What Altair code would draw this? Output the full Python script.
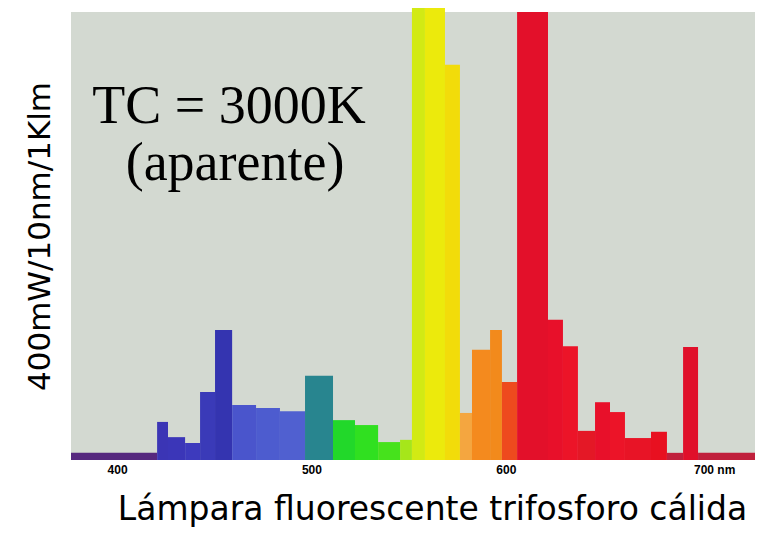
import altair as alt
import pandas as pd

# Spectral bins (nm) and relative power
edges = [376.3, 420.6, 426.2, 435.0, 442.7, 450.4, 459.2, 471.5, 483.8, 496.7,
         511.1, 522.4, 534.3, 545.6, 551.7, 558.4, 568.7, 576.4, 582.6, 591.9,
         598.0, 605.8, 621.7, 629.4, 637.1, 645.9, 653.6, 661.3, 674.7, 682.9,
         691.2, 698.9, 728.2]
values = [1.6, 8.5, 5.1, 3.8, 15.2, 29.0, 12.3, 11.6, 10.9, 18.8,
          8.9, 7.8, 4.0, 4.5, 102.7, 102.7, 88.2, 10.5, 24.6, 29.0,
          17.4, 100.0, 31.3, 25.4, 6.5, 12.9, 10.7, 4.9, 6.3, 1.6,
          25.2, 1.6]
colors = ["#56287e", "#3b35b5", "#3b36b8", "#3d3abd", "#3a3ab8", "#3434b0",
          "#4a55cc", "#4d5ccf", "#5060d0", "#28858f", "#22d82a", "#30e020",
          "#46e21c", "#a6e61a", "#d2ea14", "#ecea0c", "#f2dc0a", "#f4a640",
          "#f48a1e", "#f28a1c", "#ee4a1e", "#e3102a", "#e8102a", "#ec1428",
          "#e41826", "#e8102a", "#ec1428", "#e81426", "#e81020", "#c0203c",
          "#e0102a", "#c0203c"]

ann_x = [457.6, 460.7]
ann_y = [75.2, 62.5]
ann_text = ["TC = 3000K", "(aparente)"]

tick_values = [400, 500, 600, 700]

bars = pd.DataFrame({
    "start": edges[:-1],
    "end": edges[1:],
    "value": values,
    "color": colors,
})
ann = pd.DataFrame({"x": ann_x, "y": ann_y, "text": ann_text})

xscale = alt.Scale(domain=[edges[0], edges[-1]], nice=False, zero=False)
yscale = alt.Scale(domain=[0, 100], nice=False)

xaxis = alt.Axis(
    values=tick_values,
    labelExpr="datum.value == 700 ? '700 nm' : datum.label",
    labelFontWeight="bold", labelFontSize=12, labelColor="black",
    labelFont="Liberation Sans",
    labelOffset={"condition": {"test": "datum.value == 700", "value": 14}, "value": 0},
    labelPadding=4,
    domain=False, ticks=False, grid=False,
    title="Lámpara fluorescente trifosforo cálida",
    titleFont="DejaVu Sans", titleFontSize=33, titleFontWeight="normal",
    titleColor="black", titleX=361, titleY=59, titleAlign="center",
    titleBaseline="alphabetic",
)
yaxis = alt.Axis(
    labels=False, domain=False, ticks=False, grid=False,
    title="400mW/10nm/1Klm",
    titleFont="DejaVu Sans", titleFontSize=31, titleFontWeight="normal",
    titleColor="black", titleX=-31, titleY=224, titleAngle=270,
    titleAlign="center", titleBaseline="middle",
)

bar_layer = alt.Chart(bars).mark_bar(strokeWidth=0).encode(
    x=alt.X("start:Q", scale=xscale, axis=xaxis),
    x2="end:Q",
    y=alt.Y("value:Q", scale=yscale, axis=yaxis),
    y2=alt.datum(0),
    color=alt.Color("color:N", scale=None),
)

text_layer = alt.Chart(ann).mark_text(
    font="Liberation Serif", fontSize=54, align="center",
    baseline="alphabetic", color="black",
).encode(
    x=alt.X("x:Q", scale=xscale),
    y=alt.Y("y:Q", scale=yscale),
    text="text:N",
)

chart = alt.layer(bar_layer, text_layer).properties(
    width=684, height=448,
    autosize=alt.AutoSizeParams(type="none"),
    padding={"left": 63, "top": 4, "right": 6, "bottom": 68},
    background="white",
).configure_view(fill="#d3d9d1", strokeWidth=0)

chart.save("out.html", embed_options={"renderer": "svg", "actions": False})
